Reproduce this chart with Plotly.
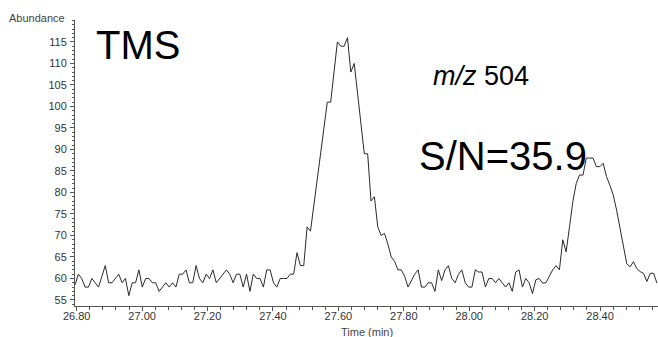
import plotly.graph_objects as go

# ---- data ----
start_time = 26.7948        # min, first scan shown
scan_interval = 0.010284    # min between scans
abundance = [
    # 26.79 - 27.24
    58.5, 61, 60, 58, 58, 60, 59, 58, 60.5, 63, 59, 59, 60, 61, 59, 60, 56, 59, 59, 62,
    58, 60, 60, 59, 59, 57, 58, 59, 58, 59, 58, 61, 61, 62, 59, 59, 63, 60, 59, 61,
    60, 62, 59, 60, 61,
    # 27.25 - 27.70 (first peak)
    62, 61, 59, 61, 61, 58, 61, 57, 61, 60, 60, 58, 62, 62, 59, 58, 60, 60, 60, 61,
    61, 66, 63, 63, 72, 71, 77, 83, 89, 95, 101, 101, 108, 115, 114, 114, 116, 108, 110, 103,
    96, 89, 89, 78, 79,
    # 27.71 - 28.17
    72, 70, 70.5, 68, 65, 64, 62, 62, 60.5, 58, 59.7, 61, 62, 58, 58, 59, 59, 57, 62, 59.5,
    62, 63, 60, 59, 61, 62, 59, 58, 58, 62, 61.5, 61.5, 58, 60, 60, 59, 60, 59, 58, 59,
    57, 61.5, 62, 58, 60, 59,
    # 28.18 - 28.57 (second peak)
    56.5, 59.7, 60, 58.9, 59, 60.5, 62, 63, 62, 69, 66.2, 72, 77.9, 82.1, 84.1, 84, 88, 88, 88, 86,
    86, 86.8, 83.7, 81.7, 79.4, 75.9, 72, 68.2, 63.5, 62.7, 63.9, 62.3, 61.6, 61.2, 59.3, 61.2,
    61.2, 58.9,
]
time_min = [start_time + i * scan_interval for i in range(len(abundance))]

x_ticks = [26.80, 27.00, 27.20, 27.40, 27.60, 27.80, 28.00, 28.20, 28.40]
y_ticks = [55, 60, 65, 70, 75, 80, 85, 90, 95, 100, 105, 110, 115]
x_range = [26.7948, 28.5771]
y_range = [53.6, 120.1]

label_tms = "TMS"
label_mz = "<i>m/z</i> 504"
label_sn = "S/N=35.9"

FONT = "Liberation Sans, Arial, Helvetica, sans-serif"

fig = go.Figure()
fig.add_trace(go.Scatter(
    x=time_min, y=abundance, mode="lines",
    line=dict(color="#2a2a2a", width=1),
    hoverinfo="skip", showlegend=False,
))

axis_common = dict(
    showline=True, linecolor="#555555", linewidth=1,
    ticks="outside", tickcolor="#555555", tickwidth=1,
    showgrid=False, zeroline=False,
    tickfont=dict(family=FONT, size=11, color="#333333"),
)

fig.update_xaxes(
    range=x_range, tickvals=x_ticks,
    ticktext=[f"{v:.2f}" for v in x_ticks],
    ticklen=4, ticklabelstandoff=-4,
    minor=dict(dtick=0.04, tick0=26.80, ticks="outside", ticklen=3,
               tickcolor="#555555", showgrid=False),
    **axis_common,
)
fig.update_yaxes(
    range=y_range, tickvals=y_ticks, ticklen=4, ticklabelstandoff=1,
    minor=dict(dtick=1, tick0=55, ticks="outside", ticklen=2,
               tickcolor="#555555", showgrid=False),
    **axis_common,
)

def px2x(px):
    return (px - 75) / 583.0

def py2y(py):
    return (306 - py) / 286.0

annotations = [
    dict(text="Abundance", x=px2x(67), y=py2y(18), xanchor="right", yanchor="middle",
         font=dict(family=FONT, size=11, color="#444444")),
    dict(text="Time (min)", x=0.5, y=py2y(331.5), xanchor="center", yanchor="middle",
         font=dict(family=FONT, size=11, color="#444444")),
    dict(text=label_tms, x=px2x(94), y=py2y(45), xanchor="left", yanchor="middle",
         font=dict(family=FONT, size=40, color="#000000")),
    dict(text=label_mz, x=px2x(431), y=py2y(76), xanchor="left", yanchor="middle",
         font=dict(family=FONT, size=27, color="#000000")),
    dict(text=label_sn, x=px2x(417), y=py2y(156), xanchor="left", yanchor="middle",
         font=dict(family=FONT, size=40, color="#000000")),
]
for a in annotations:
    a.update(xref="paper", yref="paper", showarrow=False)

fig.update_layout(
    width=658, height=337,
    margin=dict(l=75, r=0, t=20, b=31, pad=0),
    paper_bgcolor="white", plot_bgcolor="white",
    annotations=annotations,
    showlegend=False,
)

fig.write_html("out.html")
